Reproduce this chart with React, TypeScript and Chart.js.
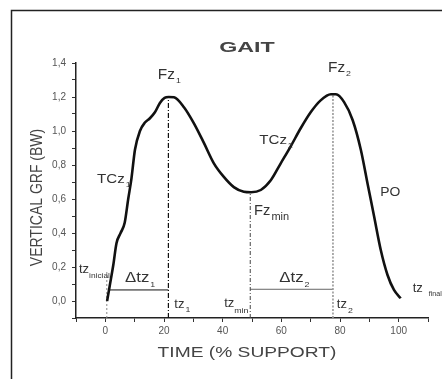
import React, { useEffect, useRef } from 'react';
import { Chart, registerables } from 'chart.js';

Chart.register(...registerables);

// ---- Data ----
const timePct = [
  0.6, 1.5, 2.7, 3.8, 5.2, 6.6, 7.8, 8.9, 10.1, 11.8, 13.5, 15.2, 16.9, 18.6, 20.2, 21.6,
  23.4, 26.8, 30.2, 33.6, 37.0, 40.4, 43.8, 47.2, 49.7, 53.0, 56.4, 59.8, 63.2, 66.6,
  70.0, 73.4, 76.9, 78.6, 81.4, 84.3, 87.1, 89.4, 91.6, 93.9, 96.2, 98.4, 100.7,
];
const grfBW = [
  0.0, 0.09, 0.21, 0.34, 0.4, 0.46, 0.6, 0.72, 0.89, 1.0, 1.05, 1.075, 1.11, 1.165, 1.195, 1.2,
  1.198, 1.14, 1.045, 0.93, 0.81, 0.73, 0.67, 0.643, 0.64, 0.653, 0.71, 0.81, 0.91, 1.016,
  1.11, 1.18, 1.216, 1.216, 1.17, 1.065, 0.89, 0.69, 0.5, 0.3, 0.153, 0.065, 0.016,
];

const xMin = -10;
const xMax = 110;
const yMin = -0.1;
const yMax = 1.4;

const tzInicial = 0.5;
const tzInicialTop = 0.17;
const tz1 = 21.5;
const fz1 = 1.2;
const tzMin = 49.4;
const fzMin = 0.64;
const tz2 = 77.6;
const fz2 = 1.216;
const dtz1Start = 1.6;
const dtz1Level = 0.065;
const dtz2Level = 0.069;

// Annotation texts and their anchors (in data units)
const labelMain = ['Fz', 'Fz', 'TCz', 'TCz', 'PO', 'Fz', 'tz', '\u0394tz', '\u0394tz', 'tz', 'tz', 'tz', 'tz'];
const labelSub = ['1', '2', '1', '2', '', 'min', 'inicial', '1', '2', '1', 'min', '2', 'final'];
const labelX = [17.9, 75.9, -2.8, 52.5, 93.7, 50.7, -9.0, 6.7, 59.3, 23.5, 40.5, 78.9, 104.8];
const labelY = [1.306, 1.347, 0.694, 0.924, 0.615, 0.506, 0.165, 0.114, 0.114, -0.039, -0.034, -0.043, 0.055];

// styles for annotations: [mainSize, mainStretch, subSize, subDy, subGap]
const labelStyle: number[][] = [
  [14, 1.1, 8, 4, 1],
  [14, 1.1, 8, 4, 1],
  [13, 1.16, 8, 4, 1],
  [13, 1.16, 8, 4, 1],
  [13, 1.07, 8, 4, 1],
  [14, 1.05, 10, 5, 1],
  [13, 1.0, 7.6, 5, 0],
  [14, 1.2, 8, 5, 1],
  [14, 1.2, 8, 5, 1],
  [13, 1.0, 8, 4, 1],
  [13, 1.0, 8, 6, 0],
  [13, 1.0, 8, 5, 1],
  [13, 1.0, 6.4, 4, 6],
];

const FONT = '"Liberation Sans", Arial, sans-serif';

function drawText(
  ctx: CanvasRenderingContext2D,
  text: string,
  x: number,
  y: number,
  size: number,
  sx: number,
  align: CanvasTextAlign = 'left',
  bold = false,
): number {
  ctx.save();
  ctx.font = `${bold ? 'bold ' : ''}${size}px ${FONT}`;
  ctx.translate(x, y);
  ctx.scale(sx, 1);
  ctx.textAlign = align;
  ctx.textBaseline = 'alphabetic';
  ctx.fillText(text, 0, 0);
  const w = ctx.measureText(text).width * sx;
  ctx.restore();
  return w;
}

const decorPlugin = {
  id: 'decor',
  beforeDraw(chart: any) {
    const ctx: CanvasRenderingContext2D = chart.ctx;
    ctx.save();
    ctx.fillStyle = '#ffffff';
    ctx.fillRect(0, 0, chart.width, chart.height);
    ctx.strokeStyle = '#222';
    ctx.lineWidth = 1.5;
    ctx.beginPath();
    ctx.moveTo(11.5, chart.height);
    ctx.lineTo(11.5, 10.5);
    ctx.lineTo(chart.width, 10.5);
    ctx.stroke();
    ctx.restore();
  },
  afterDraw(chart: any) {
    const ctx: CanvasRenderingContext2D = chart.ctx;
    const xs = chart.scales.x;
    const ys = chart.scales.y;
    const area = chart.chartArea;
    const cx = (area.left + area.right) / 2 - 5;
    ctx.save();
    // Title
    ctx.fillStyle = '#444';
    drawText(ctx, 'GAIT', cx, 52, 15, 1.55, 'center', true);
    // X title
    drawText(ctx, 'TIME (% SUPPORT)', cx, 357, 15, 1.28, 'center');
    // Y title
    ctx.save();
    ctx.translate(38, (area.top + area.bottom) / 2 + 7);
    ctx.rotate(-Math.PI / 2);
    ctx.scale(1, 1.12);
    ctx.font = `14px ${FONT}`;
    ctx.textAlign = 'center';
    ctx.textBaseline = 'middle';
    ctx.fillText('VERTICAL GRF (BW)', 0, 0);
    ctx.restore();

    // Annotations
    ctx.fillStyle = '#333';
    for (let i = 0; i < labelMain.length; i++) {
      const [size, sx, subSize, subDy, subGap] = labelStyle[i];
      const px = xs.getPixelForValue(labelX[i]);
      const py = ys.getPixelForValue(labelY[i]);
      const w = drawText(ctx, labelMain[i], px, py, size, sx);
      if (labelSub[i]) {
        drawText(ctx, labelSub[i], px + w + subGap, py + subDy, subSize, 1.1);
      }
    }
    ctx.restore();
  },
};

export default function App() {
  const ref = useRef<HTMLCanvasElement | null>(null);

  useEffect(() => {
    if (!ref.current) return;
    const curve = timePct.map((t, i) => ({ x: t, y: grfBW[i] }));
    const vline = (x: number, top: number) => [
      { x, y: yMin },
      { x, y: top },
    ];
    const chart = new Chart(ref.current, {
      type: 'line',
      data: {
        datasets: [
          {
            data: curve,
            borderColor: '#111',
            borderWidth: 2.6,
            pointRadius: 0,
            cubicInterpolationMode: 'monotone',
            fill: false,
          },
          {
            data: vline(tzInicial, tzInicialTop),
            borderColor: '#888',
            borderWidth: 1,
            borderDash: [2, 2],
            pointRadius: 0,
          },
          {
            data: vline(tz1, fz1),
            borderColor: '#111',
            borderWidth: 1.2,
            borderDash: [5, 2, 1, 2],
            pointRadius: 0,
          },
          {
            data: vline(tzMin, fzMin),
            borderColor: '#444',
            borderWidth: 1,
            borderDash: [4, 2, 1, 2],
            pointRadius: 0,
          },
          {
            data: vline(tz2, fz2),
            borderColor: '#999',
            borderWidth: 1.6,
            borderDash: [2, 1.5],
            pointRadius: 0,
          },
          {
            data: [
              { x: dtz1Start, y: dtz1Level },
              { x: tz1, y: dtz1Level },
            ],
            borderColor: '#111',
            borderWidth: 1,
            pointRadius: 0,
          },
          {
            data: [
              { x: tzMin, y: dtz2Level },
              { x: tz2, y: dtz2Level },
            ],
            borderColor: '#666',
            borderWidth: 1,
            pointRadius: 0,
          },
        ],
      },
      options: {
        responsive: false,
        animation: false,
        devicePixelRatio: 1,
        layout: { padding: { top: 63, right: 14, left: 0, bottom: 0 } },
        plugins: {
          legend: { display: false },
          tooltip: { enabled: false },
          title: { display: false },
        },
        scales: {
          x: {
            type: 'linear',
            min: xMin,
            max: xMax,
            afterFit: (s: any) => {
              s.height = 61;
            },
            ticks: {
              stepSize: 10,
              autoSkip: false,
              maxRotation: 0,
              padding: 3,
              color: '#555',
              font: { family: FONT, size: 10 },
              callback: (v: any) => {
                const n = Math.round(Number(v));
                return n >= 0 && n <= 100 && n % 20 === 0 ? String(n) : '';
              },
            },
            grid: {
              drawOnChartArea: false,
              drawTicks: true,
              tickLength: 4,
              tickColor: '#333',
              tickWidth: 1,
            },
            border: { display: true, color: '#222', width: 1.5 },
          },
          y: {
            type: 'linear',
            min: yMin,
            max: yMax,
            afterFit: (s: any) => {
              s.width = 76;
            },
            ticks: {
              stepSize: 0.1,
              autoSkip: false,
              padding: 6,
              color: '#555',
              font: { family: FONT, size: 10 },
              callback: (v: any) => {
                const n = Math.round(Number(v) * 10);
                return n >= 0 && n % 2 === 0 ? (n / 10).toFixed(1).replace('.', ',') : '';
              },
            },
            grid: {
              drawOnChartArea: false,
              drawTicks: true,
              tickLength: 4,
              tickColor: '#333',
              tickWidth: 1,
            },
            border: { display: true, color: '#222', width: 1.5 },
          },
        },
      },
      plugins: [decorPlugin],
    });
    return () => chart.destroy();
  }, []);

  return (
    <div style={{ position: 'absolute', left: 0, top: 0, width: 442, height: 379 }}>
      <canvas ref={ref} width={442} height={379} style={{ display: 'block' }} />
    </div>
  );
}
